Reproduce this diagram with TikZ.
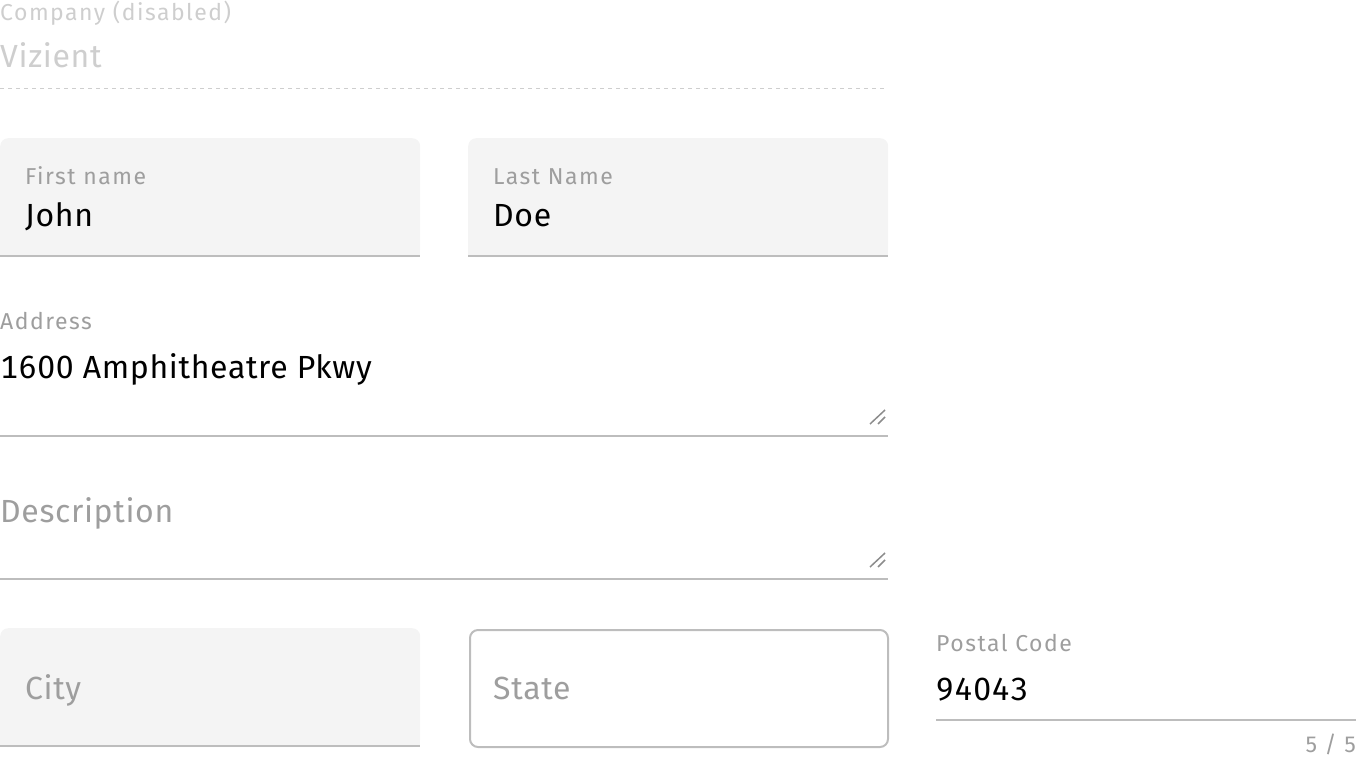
\documentclass[tikz,border=0pt]{standalone}
\usepackage{fontspec}
\setmainfont{Fira Sans}
\newfontfamily\labelfont[LetterSpace=6.5]{Fira Sans}
\newfontfamily\valuefont[Numbers=Monospaced, LetterSpace=2]{Fira Sans}
\usetikzlibrary{positioning}

\definecolor{fieldbg}{HTML}{F4F4F4}
\definecolor{rulegray}{HTML}{BDBDBD}
\definecolor{labelgray}{HTML}{9E9E9E}
\definecolor{offgray}{HTML}{CECECE}
\definecolor{handlegray}{HTML}{8C8C8C}

\begin{document}
\begin{tikzpicture}[
	x=1pt, y=-1pt,
	fieldlabel/.style={anchor=base west, inner sep=0pt, text=labelgray, font=\labelfont\fontsize{23}{27}\selectfont},
	fieldvalue/.style={anchor=base west, inner sep=0pt, text=black, font=\valuefont\fontsize{32}{38}\selectfont},
	placeholder/.style={fieldvalue, text=labelgray},
	filledbox/.style={fill=fieldbg, rounded corners=8pt, minimum width=420pt, minimum height=119pt, inner sep=0pt, anchor=north west},
	outlinebox/.style={draw=rulegray, line width=2pt, rounded corners=8pt, minimum width=418pt, minimum height=117pt, inner sep=0pt, anchor=north west},
	underline/.style={draw=rulegray, line width=2pt},
	handle/.style={draw=handlegray, line width=1.5pt}
]
	\useasboundingbox (0,0) rectangle (1356,756);

	% company (disabled)
	\node[fieldlabel, text=offgray] (companylabel) at (0,20) {Company (disabled)};
	\node[fieldvalue, text=offgray] (companyvalue) at (0,67) {Vizient};
	\draw[offgray, line width=1pt, dash pattern=on 4pt off 4pt] (0,88.5) coordinate (companyl) -- (884,88.5) coordinate (companyr);

	% first / last name
	\foreach \name/\x/\lab/\val in {first/0/First name/John, last/468/Last Name/Doe} {
		\node[filledbox] (\name box) at (\x,138) {};
		\fill[fieldbg] ([yshift=12pt]\name box.south west) rectangle (\name box.south east);
		\draw[underline] ([yshift=1pt]\name box.south west) -- ([yshift=1pt]\name box.south east);
		\node[fieldlabel] (\name label) at (\x+25,184) {\lab};
		\node[fieldvalue] (\name value) at (\x+25,226) {\val};
	}

	% address
	\node[fieldlabel] (addresslabel) at (0,329) {Address};
	\node[fieldvalue] (addressvalue) at (0,378) {1600 Amphitheatre Pkwy};
	\draw[underline] (0,436) coordinate (addressl) -- (888,436) coordinate (addressr);
	\draw[handle] (870,424) -- (885,410);
	\draw[handle] (878,424) -- (885,417);

	% description
	\node[placeholder] (descvalue) at (0,522) {Description};
	\draw[underline] (0,579) coordinate (descl) -- (888,579) coordinate (descr);
	\draw[handle] (870,567) -- (885,553);
	\draw[handle] (878,567) -- (885,560);

	% city / state
	\node[filledbox] (citybox) at (0,628) {};
	\fill[fieldbg] ([yshift=12pt]citybox.south west) rectangle (citybox.south east);
	\draw[underline] ([yshift=1pt]citybox.south west) -- ([yshift=1pt]citybox.south east);
	\node[placeholder] (cityvalue) at (25,699) {City};
	\node[outlinebox] (statebox) at (469,629) {};
	\node[placeholder] (statevalue) at (493,699) {State};

	% postal code
	\node[fieldlabel] (postallabel) at (936,651) {Postal Code};
	\node[fieldvalue] (postalvalue) at (936,700) {94043};
	\draw[underline] (936,720) coordinate (postall) -- (1356,720) coordinate (postalr);
	\node[fieldlabel, anchor=base east] (postalcount) at (1356,752) {5 / 5};
\end{tikzpicture}
\end{document}
